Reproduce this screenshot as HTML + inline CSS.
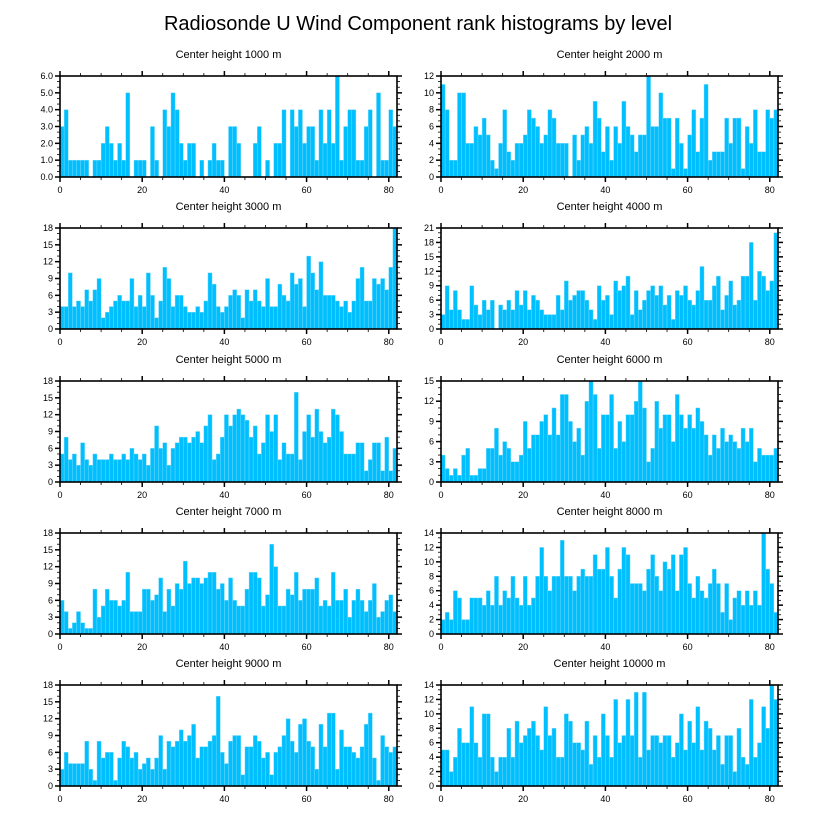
<!DOCTYPE html>
<html><head><meta charset="utf-8"><style>
body{margin:0;background:#fff;}
svg{display:block;font-family:"Liberation Sans",sans-serif;}
</style></head><body>
<svg id="chart" width="818" height="824" xmlns="http://www.w3.org/2000/svg">
<text x="418" y="30" font-size="20" text-anchor="middle">Radiosonde U Wind Component rank histograms by level</text>
</svg>
<script>
const levels = ["1000","2000","3000","4000","5000","6000","7000","8000","9000","10000"];
const yMaxes = [6,12,18,21,18,15,18,14,18,14];
const ySteps = [1,2,3,3,3,3,3,2,3,2];
const xTicks = [0,20,40,60,80];
const h1000 = [3,4,1,1,1,1,1,0,1,1,2,3,2,1,2,1,5,0,1,1,1,0,3,1,0,4,3,5,4,2,1,2,2,0,1,0,1,2,1,1,0,3,3,2,0,0,0,2,3,0,1,0,2,2,4,0,4,3,4,2,3,3,1,4,2,4,2,6,1,3,4,4,1,1,3,4,0,5,1,1,4,3];
const h2000 = [11,8,2,2,10,10,4,4,6,5,7,5,2,1,4,8,3,2,4,4,5,8,7,6,4,5,8,7,4,4,4,0,5,2,5,6,4,9,7,3,6,2,6,4,9,6,5,3,5,5,12,6,6,10,7,7,1,7,4,1,5,8,3,7,11,2,3,3,3,7,4,7,7,1,6,4,8,3,3,8,7,8];
const h3000 = [4,4,10,4,5,4,7,5,7,9,2,3,4,5,6,5,5,9,4,6,4,10,6,2,5,11,9,4,6,6,4,3,3,4,3,5,10,8,4,3,4,6,7,6,2,7,5,7,5,4,9,4,4,8,6,5,10,8,9,4,13,10,7,12,6,6,6,5,4,5,3,5,9,11,5,5,9,8,9,7,11,18];
const h4000 = [3,9,4,8,4,2,2,9,5,3,6,4,6,0,5,4,6,4,8,5,8,4,7,6,4,3,3,3,7,4,10,6,7,8,8,6,4,2,9,6,7,3,10,8,9,11,3,8,4,6,8,9,7,9,5,7,2,8,7,9,6,5,8,13,6,6,9,11,4,7,10,5,6,11,11,18,6,12,11,8,10,20];
const h5000 = [5,8,4,5,3,7,4,3,5,4,4,4,5,4,4,5,4,6,5,4,5,3,6,10,6,7,3,6,7,8,8,7,8,9,7,10,12,4,5,8,12,10,12,13,12,11,8,10,5,7,12,9,12,4,7,5,5,16,4,9,12,8,13,9,7,8,13,12,9,5,5,5,7,7,2,4,7,7,2,8,2,6];
const h6000 = [4,2,1,2,1,4,5,1,1,2,2,5,5,8,4,6,5,3,3,4,9,5,7,7,9,10,7,11,7,13,13,9,6,8,4,12,15,13,5,10,10,13,5,9,6,10,10,12,15,11,3,5,12,8,10,10,6,13,10,8,10,8,11,9,7,4,7,5,8,6,7,6,5,8,6,8,3,5,4,4,4,5];
const h7000 = [6,4,1,2,4,2,1,1,8,3,5,8,6,6,5,6,11,4,4,4,8,8,6,7,10,4,8,5,9,8,13,9,10,10,9,10,11,11,8,9,6,10,6,5,5,8,11,11,10,5,7,16,12,5,5,8,7,11,6,8,8,8,10,5,6,5,11,6,6,8,3,6,8,6,4,6,9,3,4,6,7,4];
const h8000 = [2,3,2,6,5,2,2,5,5,5,4,6,4,8,4,6,5,8,5,4,8,4,5,8,12,8,6,8,8,13,8,8,6,8,9,8,8,11,9,9,12,8,5,9,12,11,7,7,7,6,9,11,8,6,10,9,11,6,11,12,7,5,8,6,5,7,9,7,3,7,2,5,6,4,6,4,6,4,14,9,7,3];
const h9000 = [3,6,4,4,4,4,8,3,1,8,5,6,6,1,5,8,7,5,6,3,4,5,3,5,9,3,8,7,8,10,8,9,11,5,7,7,8,9,16,6,4,8,9,9,2,7,7,9,8,5,6,2,6,7,9,12,8,6,11,12,8,7,3,11,7,13,13,3,10,7,7,6,5,7,11,13,5,1,9,7,6,7];
const h10000 = [5,5,2,4,8,6,6,11,6,4,10,10,4,2,4,4,8,4,9,6,7,8,9,7,5,11,7,8,4,4,10,9,6,6,5,9,3,7,4,10,7,4,12,6,7,12,7,13,4,13,5,7,7,6,7,7,4,6,10,5,9,6,11,5,9,8,5,7,3,7,7,2,8,4,3,12,4,6,11,8,14,12];
const series = [h1000,h2000,h3000,h4000,h5000,h6000,h7000,h8000,h9000,h10000];

const NS="http://www.w3.org/2000/svg";
const svg=document.getElementById('chart');
function mk(tag,attrs,parent){const e=document.createElementNS(NS,tag);for(const k in attrs)e.setAttribute(k,attrs[k]);(parent||svg).appendChild(e);return e;}
const colL=[60,441], colR=[397,778];
const rowT=[76,228,381,533,685], PH=101;
for(let p=0;p<10;p++){
  const c=p%2, r=Math.floor(p/2);
  const x0=colL[c], x1=colR[c], y0=rowT[r], y1=rowT[r]+PH;
  const xs=v=>x0+(x1-x0)*v/82;
  const ys=v=>y1-(y1-y0)*v/yMaxes[p];
  const g=mk('g',{});
  
  
  const t=mk('text',{x:(x0+x1)/2,y:y0-18,'font-size':11,'text-anchor':'middle'},g);
  t.textContent='Center height '+levels[p]+' m';
  
  
  const data=series[p];
  for(let i=0;i<data.length&&i<82;i++){
    if(data[i]<=0)continue;
    const b=mk('rect',{x:xs(i),y:ys(data[i]),width:xs(i+1)-xs(i),height:y1-ys(data[i]),fill:'#00bfff',stroke:'#80dcff','stroke-width':0.4},g);
    
    
  }
  const fr=mk('rect',{x:x0,y:y0,width:x1-x0,height:PH,fill:'none',stroke:'#000','stroke-width':1.6},g);
  
  
  // x ticks
  for(let v=0;v<=80;v+=5){
    const major=v%20===0, L=major?5:3, X=xs(v);
    mk('line',{x1:X,x2:X,y1:y1,y2:y1+L,stroke:'#000','stroke-width':major?1.5:0.8},g);
    mk('line',{x1:X,x2:X,y1:y0,y2:y0-L,stroke:'#000','stroke-width':major?1.5:0.8},g);
  }
  xTicks.forEach(v=>{
    const tl=mk('text',{x:xs(v),y:y1+16,'font-size':9,'text-anchor':'middle'},g);
    tl.textContent=v;
    
    
  });
  // y ticks
  const st=ySteps[p];
  for(let v=0;v<=yMaxes[p]+1e-9;v+=st/3){
    const major=Math.abs(v/st-Math.round(v/st))<1e-6, L=major?5:3, Y=ys(v);
    mk('line',{x1:x0,x2:x0-L,y1:Y,y2:Y,stroke:'#000','stroke-width':major?1.5:0.8},g);
    mk('line',{x1:x1,x2:x1+L,y1:Y,y2:Y,stroke:'#000','stroke-width':major?1.5:0.8},g);
  }
  for(let v=0;v<=yMaxes[p];v+=st){
    const yl=mk('text',{x:x0-7,y:ys(v)+3,'font-size':9,'text-anchor':'end'},g);
    yl.textContent=p===0?v.toFixed(1):v;
    
    
  }
}
</script>
</body></html>
